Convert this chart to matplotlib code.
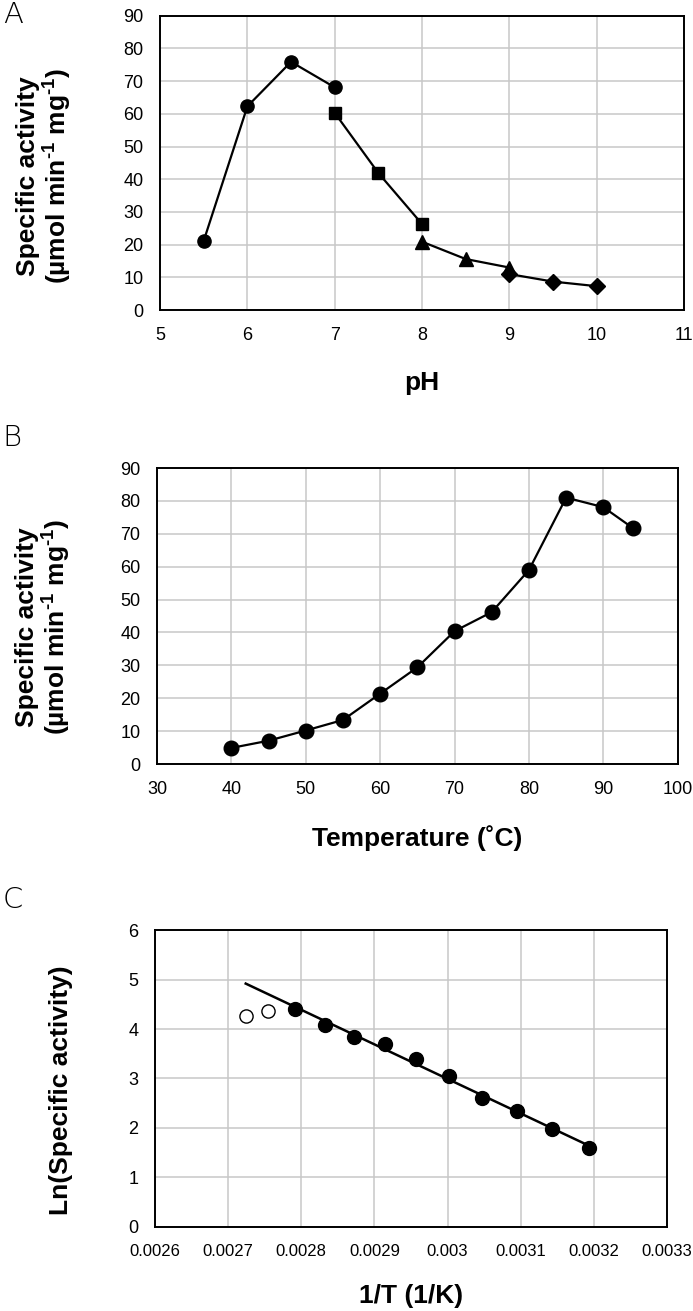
import numpy as np
import matplotlib
matplotlib.use("Agg")
import matplotlib.pyplot as plt

# --- data ---
# A: pH profile, four buffer series
ph_circle = [5.5, 6.0, 6.5, 7.0]
act_circle = [21.2, 62.3, 75.9, 68.1]
ph_square = [7.0, 7.5, 8.0]
act_square = [60.3, 41.9, 26.3]
ph_triangle = [8.0, 8.5, 9.0]
act_triangle = [20.9, 15.6, 13.0]
ph_diamond = [9.0, 9.5, 10.0]
act_diamond = [11.0, 8.7, 7.3]

# B: temperature profile
temp_c = [40, 45, 50, 55, 60, 65, 70, 75, 80, 85, 90, 94]
act_temp = [4.9, 7.1, 10.2, 13.4, 21.4, 29.4, 40.4, 46.2, 59.0, 81.0, 78.1, 71.7]

# C: Arrhenius plot
inv_t_fit = [0.003193, 0.003143, 0.003095, 0.003047, 0.003002,
             0.002957, 0.002914, 0.002872, 0.002832, 0.002792]
ln_act_fit = [1.60, 1.97, 2.34, 2.60, 3.05, 3.39, 3.70, 3.84, 4.09, 4.40]
inv_t_open = [0.002724, 0.002754]
ln_act_open = [4.27, 4.36]

plt.rcParams["font.family"] = ["Liberation Sans", "DejaVu Sans"]
plt.rcParams["mathtext.fontset"] = "custom"
plt.rcParams["mathtext.rm"] = "Liberation Sans:bold"
plt.rcParams["mathtext.it"] = "Liberation Sans:bold"

fig = plt.figure(figsize=(6.93, 13.11), dpi=100)


def style_axes(ax):
    ax.grid(True, color="#c8c8c8", linewidth=1.1)
    ax.set_axisbelow(True)
    for s in ax.spines.values():
        s.set_linewidth(1.4)
        s.set_color("black")
    ax.tick_params(length=0, pad=12, labelsize=13)


ylab = "Specific activity\n(µmol min$^{\\text{-}1}$ mg$^{\\text{-}1}$)"
kw = dict(color="black", linewidth=1.6)

# ---------- A ----------
ax1 = fig.add_axes([0.231, 0.7635, 0.756, 0.2245])
ax1.plot(ph_circle, act_circle, marker="o", markersize=9.5, **kw)
ax1.plot(ph_square, act_square, marker="s", markersize=9, **kw)
ax1.plot(ph_triangle, act_triangle, marker="^", markersize=10, **kw)
ax1.plot(ph_diamond, act_diamond, marker="D", markersize=8, **kw)
ax1.set_xlim(5, 11)
ax1.set_ylim(0, 90)
ax1.set_xticks(range(5, 12))
ax1.set_yticks(range(0, 91, 10))
style_axes(ax1)
ax1.set_ylabel(ylab, fontsize=19, fontweight="bold", linespacing=1.05)
ax1.yaxis.set_label_coords(-0.165, 0.455)
ax1.set_xlabel("pH", fontsize=19, fontweight="bold", labelpad=20)
fig.text(0.004, 0.9885, "A", fontsize=21, va="center", ha="left",
         family="DejaVu Sans", fontweight="light")

# ---------- B ----------
ax2 = fig.add_axes([0.2265, 0.4172, 0.7515, 0.2258])
ax2.plot(temp_c, act_temp, marker="o", markersize=10.5, **kw)
ax2.set_xlim(30, 100)
ax2.set_ylim(0, 90)
ax2.set_xticks(range(30, 101, 10))
ax2.set_yticks(range(0, 91, 10))
style_axes(ax2)
ax2.set_ylabel(ylab, fontsize=19, fontweight="bold", linespacing=1.05)
ax2.yaxis.set_label_coords(-0.162, 0.462)
ax2.set_xlabel("Temperature (˚C)", fontsize=19, fontweight="bold", labelpad=20)
fig.text(0.004, 0.666, "B", fontsize=21, va="center", ha="left",
         family="DejaVu Sans", fontweight="light")

# ---------- C ----------
ax3 = fig.add_axes([0.2237, 0.0641, 0.7388, 0.2265])
slope, icpt = np.polyfit(inv_t_fit, ln_act_fit, 1)
xl = np.array([min(inv_t_open), max(inv_t_fit)])
ax3.plot(xl, slope * xl + icpt, color="black", linewidth=1.8)
ax3.plot(inv_t_fit, ln_act_fit, linestyle="none", marker="o", markersize=10,
         color="black")
ax3.plot(inv_t_open, ln_act_open, linestyle="none", marker="o", markersize=9.5,
         markerfacecolor="white", markeredgecolor="black", markeredgewidth=1.0)
ax3.set_xlim(0.0026, 0.0033)
ax3.set_ylim(0, 6)
xt = [0.0026, 0.0027, 0.0028, 0.0029, 0.003, 0.0031, 0.0032, 0.0033]
ax3.set_xticks(xt)
ax3.set_xticklabels([str(v) for v in xt])
ax3.set_yticks(range(0, 7))
style_axes(ax3)
ax3.tick_params(axis="x", labelsize=12)
ax3.set_ylabel("Ln(Specific activity)", fontsize=19, fontweight="bold")
ax3.yaxis.set_label_coords(-0.16, 0.46)
ax3.set_xlabel("1/T (1/K)", fontsize=19, fontweight="bold", labelpad=18)
fig.text(0.004, 0.3135, "C", fontsize=21, va="center", ha="left",
         family="DejaVu Sans", fontweight="light")

fig.savefig("out.png", dpi=100)
